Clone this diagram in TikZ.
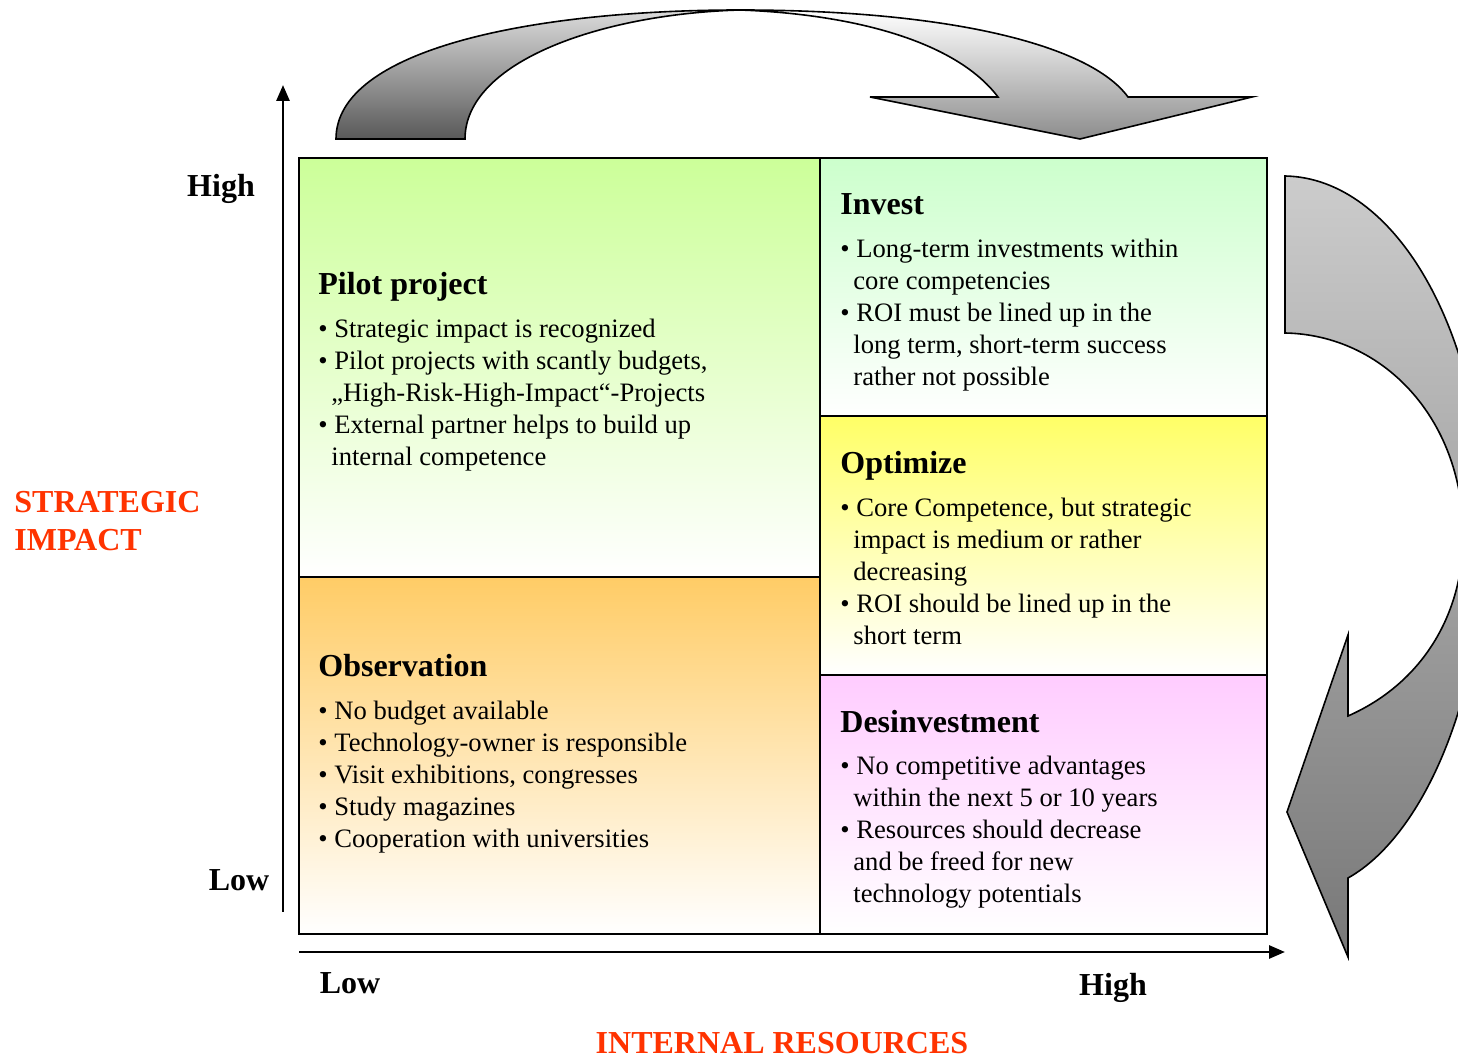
\documentclass[tikz,border=0pt]{standalone}
\usepackage{fontspec}
\setmainfont{Liberation Serif}
\usetikzlibrary{arrows.meta}
\definecolor{axred}{HTML}{FF3300}
\definecolor{pilotc}{HTML}{CCFF99}
\definecolor{investc}{HTML}{CCFFCC}
\definecolor{optc}{HTML}{FFFF66}
\definecolor{desc}{HTML}{FFCCFF}
\definecolor{obsc}{HTML}{FFCC66}
\begin{document}
\begin{tikzpicture}[x=0.5pt,y=-0.5pt,
  head/.style={font=\fontsize{16}{19}\selectfont\bfseries, anchor=base west, inner sep=0},
  body/.style={anchor=base west, inner sep=0, font=\fontsize{13.3}{16}\selectfont},
  axlab/.style={font=\fontsize{16}{19}\selectfont\bfseries, inner sep=0},
  redlab/.style={axlab, text=axred},
  gridline/.style={draw=black, line width=1pt},
  axisline/.style={line width=1.4pt, -{Triangle[length=8pt,width=6.5pt]}},
  bigarrow/.style={draw=black, line width=0.8pt}]
\useasboundingbox (0,0) rectangle (1458,1058);

% quadrant fills
\shade[top color=pilotc, bottom color=white] (299,158) rectangle (820,577);
\shade[top color=obsc, bottom color=white] (299,577) rectangle (820,934);
\shade[top color=investc, bottom color=white] (820,158) rectangle (1267,416);
\shade[top color=optc, bottom color=white] (820,416) rectangle (1267,675);
\shade[top color=desc, bottom color=white] (820,675) rectangle (1267,934);

% grid
\draw[gridline] (299,158) rectangle (1267,934);
\draw[gridline] (820,158) -- (820,934);
\draw[gridline] (299,577) -- (820,577);
\draw[gridline] (820,416) -- (1267,416);
\draw[gridline] (820,675) -- (1267,675);

% axes
\coordinate (ya0) at (283,912);
\coordinate (ya1) at (283,85);
\coordinate (xa0) at (299,952);
\coordinate (xa1) at (1285,952);
\draw[axisline] (ya0) -- (ya1);
\draw[axisline] (xa0) -- (xa1);

% top curved arrow
\shadedraw[bigarrow, top color=black!14, bottom color=black!65]
  (336,139) .. controls (336,50) and (530,10) .. (740,10)
  .. controls (600,14) and (465,62) .. (465,139) -- cycle;
\shadedraw[bigarrow, top color=white, bottom color=black!45]
  (740,10) .. controls (950,10) and (1090,45) .. (1128,97)
  -- (1252,97) -- (1080,139) -- (870,97) -- (998,97)
  .. controls (955,40) and (850,14) .. (740,10) -- cycle;

% right curved arrow
\begin{scope}
\clip (0,0) rectangle (1458,1058);
\shadedraw[bigarrow, top color=black!20, middle color=black!22, bottom color=black!53]
  (1285,176) .. controls (1395,178) and (1482,330) .. (1485,520)
  .. controls (1487,690) and (1425,835) .. (1348,878)
  -- (1348,957) -- (1287,812) -- (1348,635) -- (1348,716)
  .. controls (1425,682) and (1465,610) .. (1463,530)
  .. controls (1461,420) and (1385,335) .. (1285,333) -- cycle;
\end{scope}

% axis labels
\node[axlab] (yhigh) at (221,189) {High};
\node[axlab] (ylow) at (239,880) {Low};
\node[axlab] (xlow) at (350,983) {Low};
\node[axlab] (xhigh) at (1113,988) {High};
\node[redlab, anchor=west, align=left] (ytitle) at (14,521) {STRATEGIC\\IMPACT};
\node[redlab] (xtitle) at (782,1043) {INTERNAL RESOURCES};

% Pilot project
\node[head] (pilotH) at (318,295) {Pilot project};
\node[body] (pilotT) at (318,338) {\parbox[t]{300pt}{\raggedright
• Strategic impact is recognized\\
• Pilot projects with scantly budgets,\\
\hspace*{6.5pt}„High-Risk-High-Impact“-Projects\\
• External partner helps to build up\\
\hspace*{6.5pt}internal competence}};

% Invest
\node[head] (invH) at (840,215) {Invest};
\node[body] (invT) at (840,258) {\parbox[t]{210pt}{\raggedright
• Long-term investments within\\
\hspace*{6.5pt}core competencies\\
• ROI must be lined up in the\\
\hspace*{6.5pt}long term, short-term success\\
\hspace*{6.5pt}rather not possible}};

% Optimize
\node[head] (optH) at (840,474) {Optimize};
\node[body] (optT) at (840,517) {\parbox[t]{210pt}{\raggedright
• Core Competence, but strategic\\
\hspace*{6.5pt}impact is medium or rather\\
\hspace*{6.5pt}decreasing\\
• ROI should be lined up in the\\
\hspace*{6.5pt}short term}};

% Desinvestment
\node[head] (desH) at (840,733) {Desinvestment};
\node[body] (desT) at (840,775) {\parbox[t]{210pt}{\raggedright
• No competitive advantages\\
\hspace*{6.5pt}within the next 5 or 10 years\\
• Resources should decrease\\
\hspace*{6.5pt}and be freed for new\\
\hspace*{6.5pt}technology potentials}};

% Observation
\node[head] (obsH) at (318,677) {Observation};
\node[body] (obsT) at (318,720) {\parbox[t]{300pt}{\raggedright
• No budget available\\
• Technology-owner is responsible\\
• Visit exhibitions, congresses\\
• Study magazines\\
• Cooperation with universities}};
\end{tikzpicture}
\end{document}
